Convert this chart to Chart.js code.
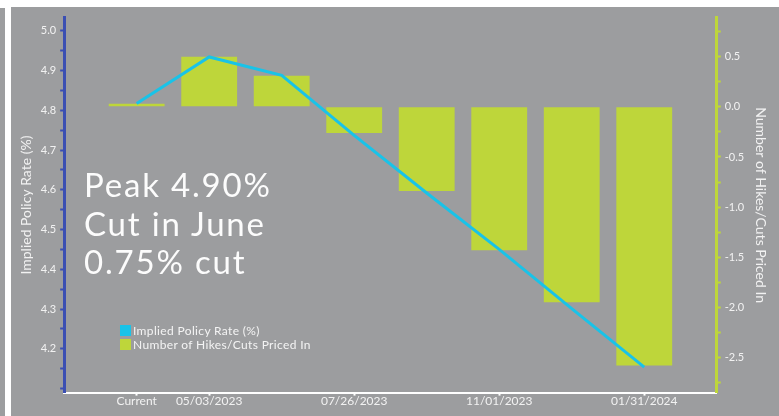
<!DOCTYPE html>
<html>
<head>
<meta charset="utf-8">
<script src="https://cdn.jsdelivr.net/npm/chart.js@4.4.0/dist/chart.umd.min.js"></script>
<style>
  body { margin: 0; background: #fff; width: 779px; height: 416px; overflow: hidden; position: relative; font-family: Lato, sans-serif; }
  #strip { position: absolute; left: 0; top: 8px; width: 5px; height: 408px; background: #9c9d9f; }
  #panel { position: absolute; left: 11px; top: 7px; width: 768px; height: 409px; background: #9c9d9f; }
  #note { position: absolute; left: 73px; top: 158px; color: #fcfcfc; font-size: 33px; line-height: 38.5px; font-weight: 400; letter-spacing: 1.8px; white-space: nowrap; }
  #legend { position: absolute; left: 109px; top: 317px; color: #f4f4f4; font-size: 12px; line-height: 14px; letter-spacing: 0.35px; white-space: nowrap; }
  .sw { display: inline-block; width: 11px; height: 11px; vertical-align: -1px; margin-right: 2px; }
</style>
</head>
<body>
<div id="strip"></div>
<div id="panel">
  <canvas id="chart"></canvas>
  <div id="note">Peak 4.90%<br>Cut in June<br>0.75% cut</div>
  <div id="legend">
    <div><span class="sw" style="background:#19c3e8"></span>Implied Policy Rate (%)</div>
    <div><span class="sw" style="background:#bed63a"></span>Number of Hikes/Cuts Priced In</div>
  </div>
</div>
<script>
// meeting dates on the x axis
const categories = ['Current', '05/03/2023', '06/14/2023', '07/26/2023', '09/20/2023', '11/01/2023', '12/13/2023', '01/31/2024'];
// only some of the dates get a label
const tickLabels = ['Current', '05/03/2023', '', '07/26/2023', '', '11/01/2023', '', '01/31/2024'];

// left axis, %
const impliedRate = [4.817, 4.934, 4.888, 4.737, 4.592, 4.450, 4.301, 4.154];
// right axis
const hikesCuts = [0.03, 0.50, 0.31, -0.26, -0.84, -1.43, -1.95, -2.58];

const lineColor = '#19c3e8';
const barColor = '#bed63a';
const textColor = '#f2f2f2';

// blank slot at each end so the first and last bars sit away from the axes
const labels = ['', ...categories, ''];
const axisLabels = ['', ...tickLabels, ''];

Chart.defaults.font.family = 'Lato, sans-serif';
Chart.defaults.color = textColor;

const ctx = document.getElementById('chart').getContext('2d');
document.getElementById('chart').parentNode.style.position = 'absolute';

new Chart(ctx, {
    type: 'bar',
    data: {
        labels: labels,
        datasets: [
            {
                type: 'line',
                label: 'Implied Policy Rate (%)',
                data: [null, ...impliedRate, null],
                yAxisID: 'y',
                borderColor: lineColor,
                backgroundColor: lineColor,
                borderWidth: 3,
                pointRadius: 0,
                tension: 0,
                order: 0,
            },
            {
                label: 'Number of Hikes/Cuts Priced In',
                data: [null, ...hikesCuts, null],
                yAxisID: 'y1',
                backgroundColor: barColor,
                categoryPercentage: 1,
                barPercentage: 0.77,
                order: 1,
            },
        ],
    },
    options: {
        responsive: true,
        maintainAspectRatio: false,
        animation: false,
        layout: { padding: { left: 3, right: 6, top: 7, bottom: 10 } },
        plugins: {
            legend: { display: false },
            tooltip: { enabled: false },
        },
        scales: {
            x: {
                offset: false,
                grid: {
                    display: true,
                    offset: false,
                    drawOnChartArea: false,
                    tickLength: 3,
                    tickWidth: 2,
                    tickColor: (c) => axisLabels[c.index] ? '#ffffff' : 'rgba(0,0,0,0)',
                },
                border: { display: true, color: '#ffffff', width: 2 },
                ticks: {
                    autoSkip: false,
                    maxRotation: 0,
                    padding: -2,
                    font: { size: 12 },
                    callback: (v, i) => axisLabels[i],
                },
            },
            y: {
                position: 'left',
                min: 4.09,
                max: 5.033,
                grid: {
                    display: true,
                    drawOnChartArea: false,
                    tickLength: 4,
                    tickWidth: 2,
                    tickColor: '#3b4fb3',
                },
                border: { display: true, color: '#3b4fb3', width: 3 },
                ticks: {
                    stepSize: 0.05,
                    includeBounds: false,
                    padding: 4,
                    font: { size: 11 },
                    callback: (v) => (Math.abs(v * 10 - Math.round(v * 10)) < 1e-6 && v > 4.15) ? v.toFixed(1) : '',
                },
                title: {
                    display: true,
                    text: 'Implied Policy Rate (%)',
                    font: { size: 14 },
                    padding: { top: 4, bottom: 2 },
                },
            },
            y1: {
                position: 'right',
                min: -2.85,
                max: 0.89,
                grid: {
                    display: true,
                    drawOnChartArea: false,
                    tickLength: 4,
                    tickWidth: 2,
                    tickColor: barColor,
                },
                border: { display: true, color: barColor, width: 3 },
                ticks: {
                    stepSize: 0.25,
                    includeBounds: false,
                    padding: 4,
                    font: { size: 11 },
                    callback: (v) => Math.abs(v * 2 - Math.round(v * 2)) < 1e-6 ? v.toFixed(1) : '',
                },
                title: {
                    display: true,
                    text: 'Number of Hikes/Cuts Priced In',
                    font: { size: 14 },
                    padding: { top: 4, bottom: 4 },
                },
            },
        },
    },
});
</script>
</body>
</html>
